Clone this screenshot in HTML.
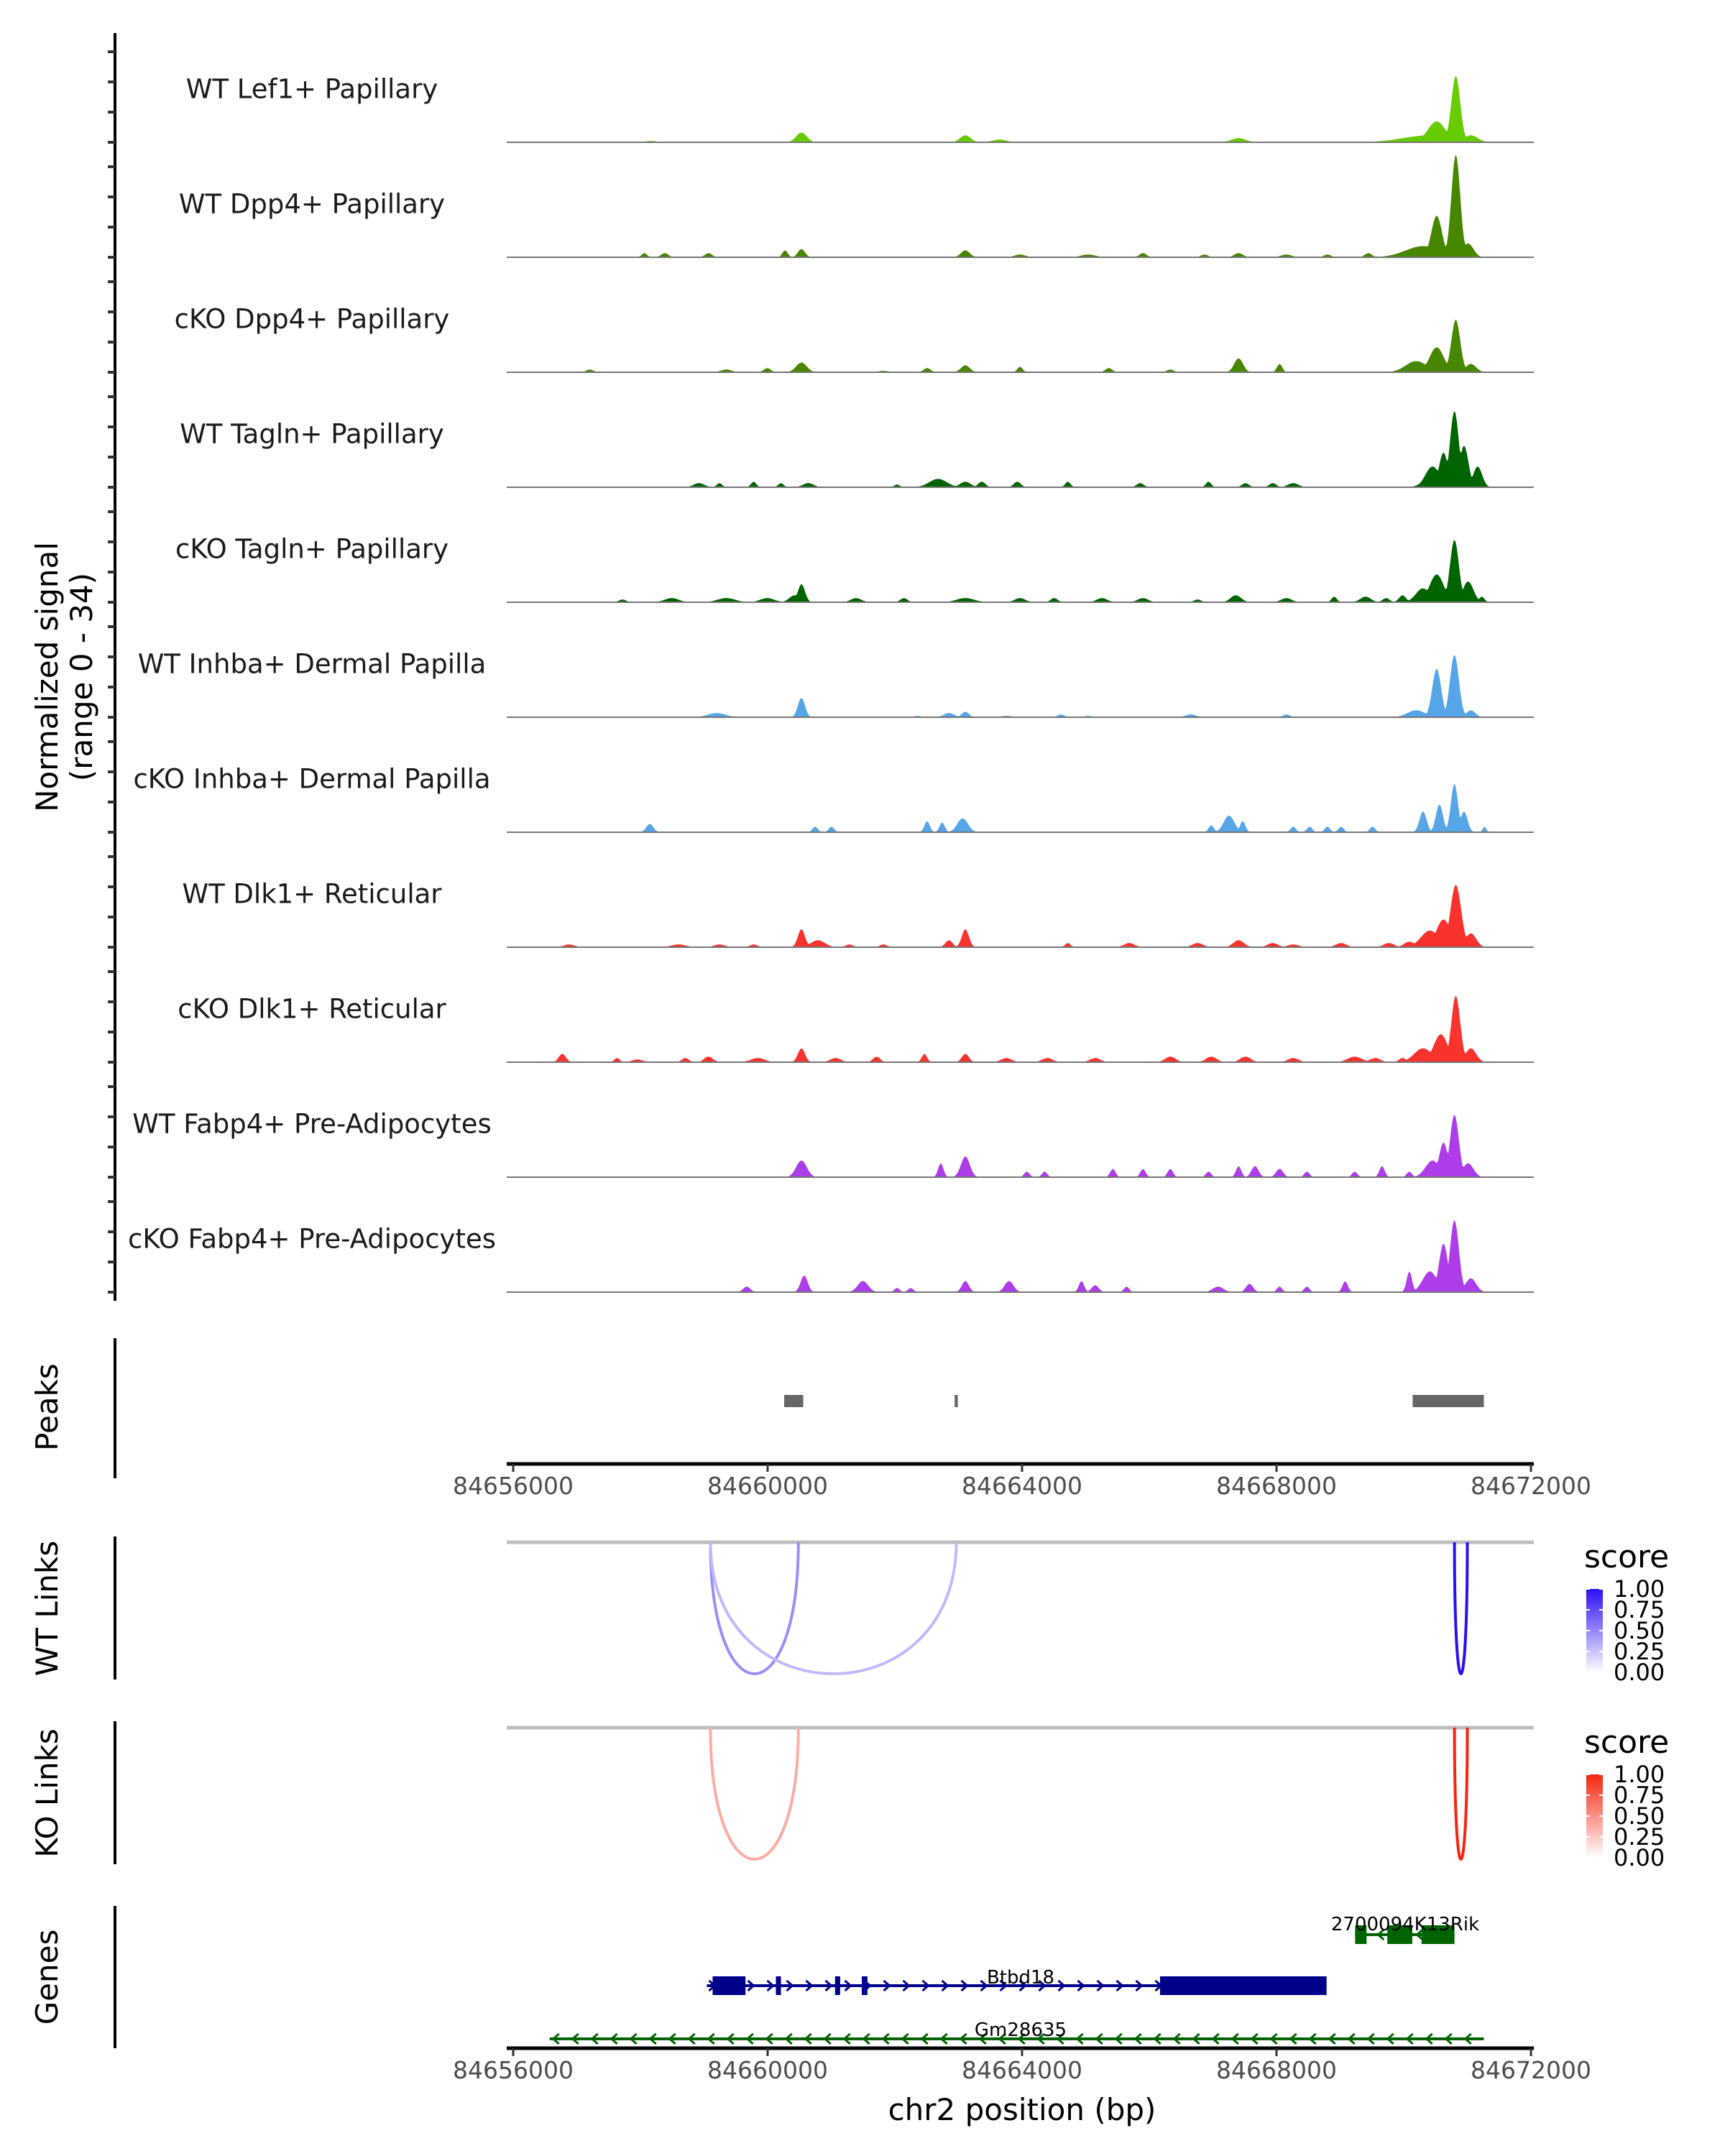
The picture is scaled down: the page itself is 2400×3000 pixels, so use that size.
<!DOCTYPE html>
<html><head><meta charset="utf-8"><style>
html,body{margin:0;padding:0;background:#fff;}
svg{display:block;font-family:"DejaVu Sans","Liberation Sans",sans-serif;}
</style></head><body>
<svg id="chart" width="2400" height="3000" viewBox="0 0 2400 3000" xmlns="http://www.w3.org/2000/svg">
<defs>
<linearGradient id="gradWT" x1="0" y1="1" x2="0" y2="0"><stop offset="0" stop-color="#ffffff"/><stop offset="1" stop-color="#2a0ff5"/></linearGradient>
<linearGradient id="gradKO" x1="0" y1="1" x2="0" y2="0"><stop offset="0" stop-color="#ffffff"/><stop offset="1" stop-color="#f5260f"/></linearGradient>
</defs>
<g id="g-cov"></g>
<g id="g-peaks"></g>
<g id="g-links"></g>
<g id="g-genes"></g>
</svg>
<script>
// ---- data ----
const trackNames = ["WT Lef1+ Papillary","WT Dpp4+ Papillary","cKO Dpp4+ Papillary","WT Tagln+ Papillary","cKO Tagln+ Papillary","WT Inhba+ Dermal Papilla","cKO Inhba+ Dermal Papilla","WT Dlk1+ Reticular","cKO Dlk1+ Reticular","WT Fabp4+ Pre-Adipocytes","cKO Fabp4+ Pre-Adipocytes"];
const trackColors = ["#66cc00","#478700","#478700","#006400","#006400","#56a5e8","#56a5e8","#f8332e","#f8332e","#ac3de8","#ac3de8"];
// peaks per track: [preview-x position, height(preview px), half-width(preview px)]
const pk0=[[580,7,6],[700,5,6],[900,3,8],[1045,15,10],[1059,48,5],[1040,5,30],[1070,5,8],[725,2,8],[470,1,6]];
const pk1=[[1059,74,5],[1045,30,6],[1035,8,20],[1068,10,6],[580,6,4],[568,5,3],[700,5,5],[465,3,3],[480,3,4],[512,3,4],[740,2,6],[790,2,8],[830,3,4],[875,2,4],[900,3,5],[935,2,6],[965,2,4],[995,3,4]];
const pk2=[[1059,38,5],[1045,18,8],[1030,8,12],[1070,6,6],[580,7,6],[900,10,5],[930,6,3],[700,5,5],[740,4,3],[672,3,4],[425,2,4],[805,3,4],[850,2,4],[525,2,6],[555,3,4],[640,1,6]];
const pk3=[[1058,55,5],[1065,30,5],[1050,25,5],[1042,15,8],[1075,15,5],[680,6,10],[700,4,6],[712,4,4],[738,4,4],[545,4,3],[505,3,6],[520,3,3],[565,3,3],[585,3,6],[775,4,3],[828,3,4],[878,4,3],[905,3,4],[925,3,4],[940,3,6],[650,2,3],[1035,3,6]];
const pk4=[[1058,45,5],[1045,20,8],[1035,10,8],[1068,15,6],[580,13,4],[575,5,6],[1020,5,4],[898,5,6],[935,3,6],[970,4,3],[993,4,6],[1008,3,4],[449,2,4],[485,3,8],[525,3,10],[555,3,8],[620,3,6],[655,3,4],[700,3,10],[740,3,6],[765,3,4],[800,3,6],[830,3,6],[870,2,4],[1078,4,3]];
const pk5=[[1058,45,5],[1045,35,5],[1030,5,10],[1070,5,5],[580,14,4],[518,3,10],[688,3,6],[700,4,4],[665,1,4],[730,1,6],[770,2,4],[790,1,4],[865,2,6],[935,2,4]];
const pk6=[[1058,35,4],[1047,20,4],[1035,15,4],[1065,15,4],[1080,4,2],[469,6,4],[590,4,3],[602,4,3],[672,8,3],[683,7,3],[698,10,6],[880,5,3],[893,12,6],[903,8,3],[940,4,3],[952,4,3],[965,4,3],[975,4,3],[998,4,3]];
const pk7=[[1059,45,6],[1050,20,8],[1040,12,10],[1070,10,6],[580,13,4],[592,5,8],[700,13,4],[688,5,4],[615,2,4],[410,2,6],[490,2,8],[520,2,6],[545,2,4],[640,2,4],[775,3,3],[820,3,6],[870,3,6],[900,5,6],[925,3,6],[940,2,6],[975,3,6],[1010,3,6],[1025,4,6]];
const pk8=[[1059,48,5],[1048,20,8],[1035,10,10],[1070,10,6],[405,6,4],[580,10,4],[670,6,3],[700,6,4],[445,3,3],[460,2,6],[495,3,4],[512,4,5],[548,3,8],[605,3,6],[635,4,4],[730,3,6],[760,3,6],[795,3,6],[850,4,6],[880,4,6],[905,4,6],[940,3,6],[985,4,8],[1000,3,6],[1020,3,4]];
const pk9=[[1058,45,5],[1050,25,5],[1042,12,8],[1068,10,6],[580,12,6],[682,10,3],[700,15,5],[745,4,3],[758,4,3],[808,6,3],[830,6,3],[850,6,3],[878,4,3],[900,8,3],[912,8,4],[930,6,4],[950,4,3],[985,4,3],[1005,8,3],[1025,4,3]];
const pk10=[[1058,52,5],[1050,35,5],[1040,15,8],[1025,15,3],[1070,10,6],[540,4,4],[582,12,4],[625,8,6],[650,3,3],[660,3,3],[700,8,4],[732,8,5],[785,8,3],[795,5,4],[818,4,3],[885,4,6],[908,6,4],[930,4,3],[950,4,3],[978,8,3]];
const trackPeaks=[pk0,pk1,pk2,pk3,pk4,pk5,pk6,pk7,pk8,pk9,pk10];
const xTicks=[84656000,84660000,84664000,84668000,84672000];
const peakStarts=[84660260,84662940,84670140];
const peakEnds=[84660560,84662990,84671260];
const wtLinkStart=[84659101,84659101,84670798];
const wtLinkEnd=[84660483,84662966,84671000];
const wtLinkScore=[0.4,0.2,1.0];
const koLinkStart=[84659101,84670798];
const koLinkEnd=[84660483,84671000];
const koLinkScore=[0.3,1.0];
const legendTicks=["0.00","0.25","0.50","0.75","1.00"];
const btbdExonStart=[84659135,84660130,84661060,84661480,84666169];
const btbdExonEnd=[84659652,84660210,84661140,84661570,84668787];
const rikExonStart=[84669236,84669742,84670281];
const rikExonEnd=[84669416,84670135,84670798];

// ---- scales ----
const NS="http://www.w3.org/2000/svg";
const X0=714, X1=2130, BP0=84656000, BP1=84672000;
const PL=705, PR=2134;
const xs=bp=>X0+(bp-BP0)/(BP1-BP0)*(X1-X0);
const pvBp=px=>BP0+(px-369)/745*16000; // preview pixel -> bp
const yMax=34, trackH=150, base0=198, trackStep=160;
const ys=(v,b)=>b-v/yMax*trackH;
function mk(tag,attrs,parent,text){const e=document.createElementNS(NS,tag);for(const k in attrs)e.setAttribute(k,attrs[k]);if(text!==undefined)e.textContent=text;parent.appendChild(e);return e;}

// ---- coverage tracks ----
const gc=document.getElementById('g-cov');
const yaxis=mk('line',{x1:160,y1:46,x2:160,y2:1810,stroke:'#000','stroke-width':4},gc);


const yt=mk('text',{x:0,y:0,'font-size':42,'text-anchor':'middle',transform:'translate(80,942) rotate(-90)'},gc);


mk('tspan',{x:0,dy:0},yt,'Normalized signal');
mk('tspan',{x:0,dy:48},yt,'(range 0 - 34)');
trackNames.forEach((name,i)=>{
  const b=base0+i*trackStep;
  const g=mk('g',{},gc);
  
  
  for(let t=0;t<4;t++){mk('line',{x1:150,x2:160,y1:b-t*42,y2:b-t*42,stroke:'#333','stroke-width':4},g);}
  const lbl=mk('text',{x:434,y:b-72,'font-size':37,'text-anchor':'middle','dominant-baseline':'middle',fill:'#1a1a1a'},g,name);
  
  
  const peaks=trackPeaks[i];
  let d='M'+PL+','+b;
  for(let x=PL;x<=PR;x+=2){
    const bp=BP0+(x-X0)/(X1-X0)*(BP1-BP0);
    let v=0;
    peaks.forEach(p=>{const c=pvBp(p[0]);const w=p[2]*21.48;const dd=(bp-c)/w;if(Math.abs(dd)<2.2){const h=p[1]*0.4386*Math.exp(-dd*dd*1.2);if(h>v)v=h;}});
    d+=' L'+x+','+ys(v,b).toFixed(1);
  }
  d+=' L'+PR+','+b+' Z';
  const area=mk('path',{d:d,fill:trackColors[i]},g);
  
  
  mk('line',{x1:PL,x2:PR,y1:b,y2:b,stroke:'#777','stroke-width':2},g);
});

// ---- x axis helper ----
function xAxis(parent,y,name){
  const g=mk('g',{},parent);
  
  
  mk('line',{x1:PL,x2:PR,y1:y,y2:y,stroke:'#000','stroke-width':5},g);
  xTicks.forEach(t=>{
    mk('line',{x1:xs(t),x2:xs(t),y1:y,y2:y+11,stroke:'#333','stroke-width':3},g);
    const tl=mk('text',{x:xs(t),y:y+42,'font-size':33,'text-anchor':'middle',fill:'#4d4d4d'},g,String(t));
    
    
  });
}
function sideTitle(parent,label,cy,y1,y2,name){
  const a=mk('line',{x1:160,x2:160,y1:y1,y2:y2,stroke:'#000','stroke-width':4},parent);
  
  
  const t=mk('text',{x:0,y:0,'font-size':42,'text-anchor':'middle',transform:'translate(80,'+cy+') rotate(-90)'},parent,label);
  
  
}

// ---- peaks ----
const gp=document.getElementById('g-peaks');
sideTitle(gp,'Peaks',1958,1862,2057,'peaks');
peakStarts.forEach((s,i)=>{
  const r=mk('rect',{x:xs(s),y:1941,width:Math.max(4,xs(peakEnds[i])-xs(s)),height:17,fill:'#666'},gp);
  
  
});
xAxis(gp,2037,'peaks-x-axis');

// ---- links ----
const gl=document.getElementById('g-links');
function mix(c,s){const r=Math.round(255+(c[0]-255)*s),g=Math.round(255+(c[1]-255)*s),b=Math.round(255+(c[2]-255)*s);return 'rgb('+r+','+g+','+b+')';}
function linksPanel(label,top,cy,y1,y2,starts,ends,scores,rgb,grad,name){
  const g=mk('g',{},gl);
  
  
  sideTitle(g,label,cy,y1,y2,name);
  mk('line',{x1:PL,x2:PR,y1:top,y2:top,stroke:'#bebebe','stroke-width':5},g);
  const depth=183;
  starts.forEach((s,i)=>{
    const a=xs(s),b=xs(ends[i]);const cy2=top+depth*4/3;
    const p=mk('path',{d:`M${a},${top} C${a},${cy2} ${b},${cy2} ${b},${top}`,fill:'none',stroke:mix(rgb,0.12+0.88*scores[i]),'stroke-width':4},g);
    
    
  });
  const st=mk('text',{x:2204,y:top+35,'font-size':44},g,'score');
  
  
  const bt=top+65,bb=top+181;
  const bar=mk('rect',{x:2207,y:bt,width:23,height:bb-bt,fill:`url(#${grad})`},g);
  
  
  legendTicks.forEach((t,k)=>{
    const y=bb-k*(bb-bt)/4;
    mk('line',{x1:2207,x2:2212,y1:y,y2:y,stroke:'#fff','stroke-width':2},g);
    mk('line',{x1:2225,x2:2230,y1:y,y2:y,stroke:'#fff','stroke-width':2},g);
    const tl=mk('text',{x:2245,y:y+11,'font-size':32,fill:'#000'},g,t);
    
    
  });
}
linksPanel('WT Links',2146,2238,2138,2337,wtLinkStart,wtLinkEnd,wtLinkScore,[42,15,245],'gradWT','wt-links');
linksPanel('KO Links',2404,2495,2395,2594,koLinkStart,koLinkEnd,koLinkScore,[245,38,15],'gradKO','ko-links');

// ---- genes ----
const gg=document.getElementById('g-genes');
sideTitle(gg,'Genes',2751,2652,2850,'genes');
function gene(name,startBp,endBp,y,color,dir,exS,exE,exH,lx,ly){
  const g=mk('g',{},gg);
  
  
  mk('line',{x1:xs(startBp),x2:xs(endBp),y1:y,y2:y,stroke:color,'stroke-width':4},g);
  for(let x=xs(startBp)+8;x<xs(endBp)-4;x+=27){
    const d=dir>0?`M${x-5},${y-7} L${x+3},${y} L${x-5},${y+7}`:`M${x+5},${y-7} L${x-3},${y} L${x+5},${y+7}`;
    mk('path',{d:d,fill:'none',stroke:color,'stroke-width':3},g);
  }
  exS.forEach((s,i)=>{mk('rect',{x:xs(s),y:y-exH/2,width:xs(exE[i])-xs(s),height:exH,fill:color},g);});
  const t=mk('text',{x:lx,y:ly,'font-size':26,'text-anchor':'middle',fill:'#000'},g,name);
  
  
}
gene('2700094K13Rik',84669236,84670798,2692,'#006400',-1,rikExonStart,rikExonEnd,26,1955,2686);
gene('Btbd18',84659045,84668787,2763,'#00008b',1,btbdExonStart,btbdExonEnd,26,1420,2760);
gene('Gm28635',84656573,84671259,2837,'#006400',-1,[],[],0,1420,2833);
xAxis(gg,2850,'genes-x-axis');
const xt=mk('text',{x:1422,y:2950,'font-size':42,'text-anchor':'middle'},gg,'chr2 position (bp)');


</script>
</body></html>
